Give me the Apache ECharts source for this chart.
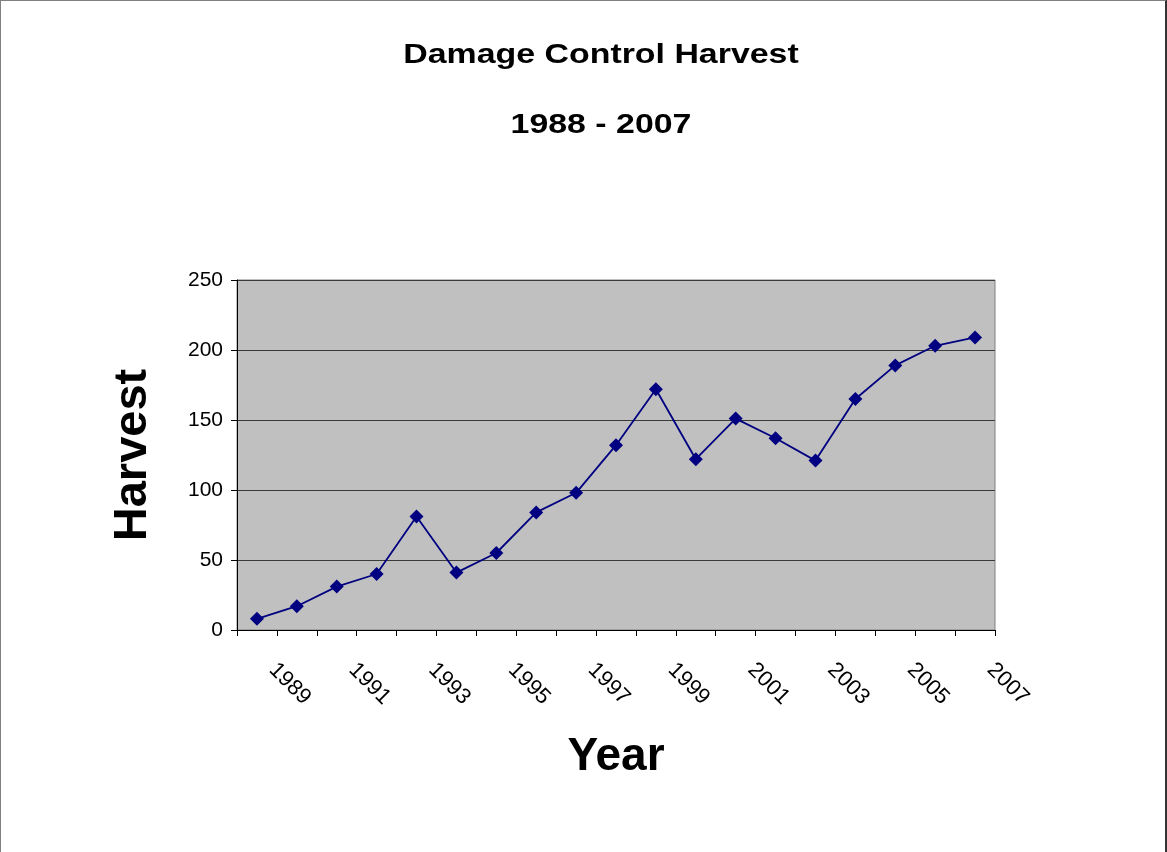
<!DOCTYPE html>
<html>
<head>
<meta charset="utf-8">
<script src="https://cdn.jsdelivr.net/npm/echarts@6/dist/echarts.min.js"></script>
<style>
  html, body { margin: 0; padding: 0; background: #fff; }
  #frame { position: absolute; left: 0; top: 0; width: 1167px; height: 852px; box-sizing: border-box;
           border-top: 1px solid #808080; border-left: 1px solid #808080; border-right: 2px solid #333; }
  #chart { position: absolute; left: 0; top: 0; width: 1167px; height: 852px; }
</style>
</head>
<body>
<div id="chart"></div>
<div id="frame"></div>
<script>
const titleMain = 'Damage Control Harvest';
const titleSub = '1988 - 2007';
const xAxisTitle = 'Year';
const yAxisTitle = 'Harvest';
const years = ['1989','1990','1991','1992','1993','1994','1995','1996','1997','1998',
               '1999','2000','2001','2002','2003','2004','2005','2006','2007'];
const harvest = [8, 17, 31, 40, 81, 41, 55, 84, 98, 132, 172, 122, 151, 137, 121, 165, 189, 203, 209];
const yTicks = { min: 0, max: 250, interval: 50 };

const chart = echarts.init(document.getElementById('chart'), null, { renderer: 'canvas' });
const fontFamily = 'Liberation Sans, Arial, sans-serif';
chart.setOption({
  backgroundColor: '#ffffff',
  animation: false,
  graphic: [
    { type: 'text', x: 601, y: 55, scaleX: 1.21, scaleY: 1,
      style: { text: titleMain, align: 'center', verticalAlign: 'middle',
               font: 'bold 28px ' + fontFamily, fill: '#000' } },
    { type: 'text', x: 601, y: 125, scaleX: 1.21, scaleY: 1,
      style: { text: titleSub, align: 'center', verticalAlign: 'middle',
               font: 'bold 28px ' + fontFamily, fill: '#000' } }
  ],
  grid: { left: 237, right: 172, top: 280, bottom: 222, show: true,
          backgroundColor: '#c0c0c0', borderColor: '#808080', borderWidth: 1 },
  xAxis: {
    type: 'category',
    data: years,
    boundaryGap: true,
    name: xAxisTitle,
    nameLocation: 'middle',
    nameGap: 104,
    nameTextStyle: { fontFamily, fontSize: 46, fontWeight: 'bold', color: '#000' },
    axisLine: { lineStyle: { color: '#000', width: 1 } },
    axisTick: { show: true, interval: 0, length: 6, lineStyle: { color: '#000' } },
    axisLabel: { interval: 1, rotate: -45, margin: 21, padding: [0, 0, 0, 22],
                 fontFamily, fontSize: 22, color: '#000' },
    splitLine: { show: false }
  },
  yAxis: {
    type: 'value',
    min: yTicks.min, max: yTicks.max, interval: yTicks.interval,
    name: yAxisTitle,
    nameLocation: 'middle',
    nameGap: 80,
    nameTextStyle: { fontFamily, fontSize: 47, fontWeight: 'bold', color: '#000' },
    axisLine: { show: true, lineStyle: { color: '#000', width: 1 } },
    axisTick: { show: true, length: 6, lineStyle: { color: '#000' } },
    axisLabel: { margin: 14, fontFamily, fontSize: 21, color: '#000' },
    splitLine: { show: true, lineStyle: { color: '#3a3a3a', width: 1 } }
  },
  series: [{
    type: 'line',
    data: harvest,
    symbol: 'diamond',
    symbolSize: 14,
    lineStyle: { color: '#000080', width: 1.8 },
    itemStyle: { color: '#000080' }
  }]
});
</script>
</body>
</html>
